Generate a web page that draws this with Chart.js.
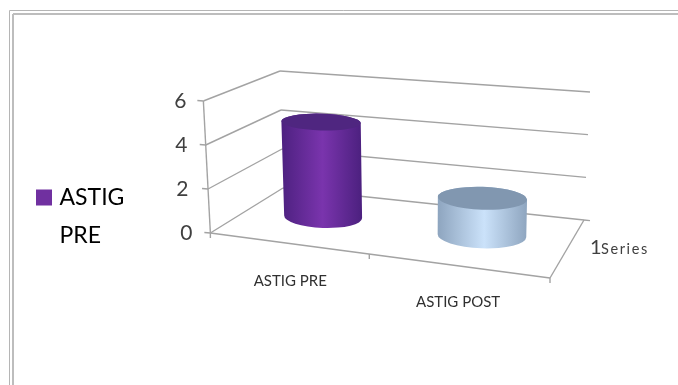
<!DOCTYPE html>
<html>
<head>
<meta charset="utf-8">
<title>ASTIG</title>
<style>
  html, body { margin: 0; padding: 0; background: #fff; overflow: hidden; }
  #wrap { position: relative; width: 678px; height: 385px; }
</style>
</head>
<body>
<div id="wrap"><canvas id="astigChart" width="678" height="385"></canvas></div>
<script src="https://cdn.jsdelivr.net/npm/chart.js@4/dist/chart.umd.js"></script>
<script>
const categories = ['ASTIG PRE', 'ASTIG POST'];
const seriesValues = [4.5, 1.7];
const legendLines = ['ASTIG', 'PRE'];
const depthIndex = '1';
const depthName = 'Series';
const yMax = 6;
const yStep = 2;

const barFill = [
  { edge: '#4d2180', mid: '#7a34ad', cap: '#4f2680' },
  { edge: '#8ea5bf', mid: '#cbe2fa', cap: '#8197b0' }
];
const gridColor = '#a3a3a3';
const textColor = '#404040';

// The scales lay out the front plane; these are the back corners of the box
const backFloorLeft = { x: 283, y: 188 };
const backFloorRight = { x: 584, y: 220 };
const backTopLeft = { x: 280, y: 71 };
const backTopRight = { x: 590, y: 92 };
const frontTopRightOffset = { x: 2, y: 32 };
const frontTopLeftOffset = { x: -7, y: 0 };
const barDepth = 0.55;
const barDepthRadius = 0.23;
const perspective = 1.137;
const yLabelLean = { 0: 0, 2: -4, 4: -5, 6: -6 };

function mix(a, b, t) {
  return { x: a.x + (b.x - a.x) * t, y: a.y + (b.y - a.y) * t };
}

// u, v are 0..1 along the category and value axes, d is 0 at the front and 1 at the back
function project(area, u, v, d) {
  const w = u / (u + (1 - u) * perspective);
  const frontBottomLeft = { x: area.left, y: area.bottom };
  const frontBottomRight = { x: area.right, y: area.bottom + 45 };
  const frontTopLeft = { x: area.left + frontTopLeftOffset.x, y: area.top + frontTopLeftOffset.y };
  const frontTopRight = { x: area.right + frontTopRightOffset.x, y: area.top + frontTopRightOffset.y };
  const front = mix(mix(frontBottomLeft, frontTopLeft, v), mix(frontBottomRight, frontTopRight, v), w);
  const back = mix(mix(backFloorLeft, backTopLeft, v), mix(backFloorRight, backTopRight, v), w);
  return mix(front, back, d);
}

function strokeLine(ctx, a, b) {
  ctx.beginPath();
  ctx.moveTo(a.x, a.y);
  ctx.lineTo(b.x, b.y);
  ctx.stroke();
}

// Ellipse of a cylinder end at height v, in screen space
function capShape(area, u, halfU, v) {
  const left = project(area, u - halfU, v, barDepth);
  const right = project(area, u + halfU, v, barDepth);
  const near = project(area, u, v, barDepth - barDepthRadius);
  const far = project(area, u, v, barDepth + barDepthRadius);
  return {
    x: (left.x + right.x) / 2,
    y: (left.y + right.y) / 2,
    rx: Math.hypot(right.x - left.x, right.y - left.y) / 2,
    ry: Math.abs(near.y - far.y) / 2,
    tilt: Math.atan2(right.y - left.y, right.x - left.x) * 0.3
  };
}

function drawCylinder(ctx, area, bar, fill) {
  const width = area.right - area.left;
  const halfU = (bar.width / 2) / width;
  const u = (bar.x - area.left) / width;
  const vTop = (area.bottom - bar.y) / (area.bottom - area.top);
  const top = capShape(area, u, halfU, vTop);
  const bottom = capShape(area, u, halfU, 0);

  const grad = ctx.createLinearGradient(top.x - top.rx, 0, top.x + top.rx, 0);
  grad.addColorStop(0, fill.edge);
  grad.addColorStop(0.52, fill.mid);
  grad.addColorStop(1, fill.edge);

  ctx.save();
  ctx.fillStyle = grad;
  ctx.beginPath();
  ctx.ellipse(top.x, top.y, top.rx, top.ry, top.tilt, Math.PI, 0);
  ctx.ellipse(bottom.x, bottom.y, bottom.rx, bottom.ry, bottom.tilt, 0, Math.PI);
  ctx.closePath();
  ctx.fill();

  ctx.fillStyle = fill.cap;
  ctx.beginPath();
  ctx.ellipse(top.x, top.y, top.rx, top.ry, top.tilt, 0, Math.PI * 2);
  ctx.fill();
  ctx.restore();
}

const wallsPlugin = {
  id: 'walls',
  beforeDraw(chart) {
    // lean the tick labels with the box
    const yItems = chart.scales.y.getLabelItems();
    const xItems = chart.scales.x.getLabelItems();
    if (yItems.leaned) return;
    yItems.leaned = true;
    yItems.forEach(item => {
      item.options.translation[0] += yLabelLean[item.label];
    });
    xItems[1].options.translation[0] -= 2;
    xItems[1].options.translation[1] += 21;
  },
  beforeDatasetsDraw(chart) {
    const { ctx, chartArea: area, scales } = chart;
    ctx.save();

    // page frame
    ctx.strokeStyle = '#b5b5b5';
    ctx.lineWidth = 1;
    strokeLine(ctx, { x: 9.5, y: 385 }, { x: 9.5, y: 10.5 });
    strokeLine(ctx, { x: 9.5, y: 10.5 }, { x: 678, y: 10.5 });
    ctx.lineWidth = 2;
    ctx.strokeStyle = '#bdbdbd';
    strokeLine(ctx, { x: 13, y: 385 }, { x: 13, y: 14 });
    strokeLine(ctx, { x: 13, y: 14 }, { x: 678, y: 14 });

    ctx.strokeStyle = gridColor;
    ctx.lineWidth = 1.4;

    // value lines run along the left wall and then the back wall
    scales.y.ticks.forEach(tick => {
      const v = tick.value / yMax;
      const front = project(area, 0, v, 0);
      const corner = project(area, 0, v, 1);
      const end = project(area, 1, v, 1);
      strokeLine(ctx, { x: front.x - 6, y: front.y - 0.5 }, front);
      strokeLine(ctx, front, corner);
      strokeLine(ctx, corner, end);
    });

    // front edge of the left wall
    strokeLine(ctx, project(area, 0, 1, 0), project(area, 0, 0, 0));

    // floor outline and its ticks
    const a = project(area, 0, 0, 0);
    const b = project(area, 1, 0, 0);
    const d = project(area, 1, 0, 1);
    strokeLine(ctx, a, b);
    strokeLine(ctx, b, d);
    strokeLine(ctx, d, { x: d.x + 6, y: d.y + 0.6 });
    [0, 0.5, 1].forEach(u => {
      const p = project(area, u, 0, 0);
      strokeLine(ctx, p, { x: p.x, y: p.y + 5 });
    });

    ctx.restore();
  },
  beforeDatasetDraw(chart, args) {
    const { ctx, chartArea: area } = chart;
    const bars = chart.getDatasetMeta(args.index).data;
    bars.forEach((bar, i) => drawCylinder(ctx, area, bar, barFill[i]));
    return false;
  },
  afterDraw(chart) {
    const { ctx } = chart;
    ctx.save();
    ctx.fillStyle = textColor;
    ctx.textBaseline = 'alphabetic';
    ctx.font = '20px Lato';
    ctx.fillText(depthIndex, 590, 254);
    ctx.font = '14.5px Lato';
    ctx.letterSpacing = '1.6px';
    ctx.fillText(depthName, 601, 254);
    ctx.restore();
  }
};

new Chart(document.getElementById('astigChart'), {
  type: 'bar',
  data: {
    labels: categories,
    datasets: [{
      label: legendLines.join(' '),
      data: seriesValues,
      backgroundColor: '#7030a0',
      barPercentage: 0.52,
      categoryPercentage: 1
    }]
  },
  plugins: [wallsPlugin],
  options: {
    responsive: false,
    animation: false,
    events: [],
    layout: { padding: { top: 101, bottom: 38, left: 32, right: 128 } },
    plugins: {
      title: { display: false },
      tooltip: { enabled: false },
      legend: {
        position: 'left',
        labels: {
          // small box with a thick stroke keeps the swatch close to the text
          boxWidth: 8,
          boxHeight: 8,
          padding: 8,
          color: textColor,
          font: { family: 'Lato', size: 23, lineHeight: '38px' },
          generateLabels: () => [{
            text: legendLines,
            fillStyle: '#7030a0',
            strokeStyle: '#7030a0',
            lineWidth: 8,
            hidden: false,
            datasetIndex: 0
          }]
        }
      }
    },
    scales: {
      x: {
        grid: { display: false, drawTicks: false },
        border: { display: false },
        afterFit(scale) { scale.height = 114; },
        ticks: {
          color: '#303030',
          font: { family: 'Lato', size: 15 },
          padding: 39,
          labelOffset: -5,
          maxRotation: 0,
          autoSkip: false
        }
      },
      y: {
        min: 0,
        max: yMax,
        grid: { display: false, drawTicks: false },
        border: { display: false },
        afterFit(scale) { scale.width = 76; },
        ticks: {
          stepSize: yStep,
          color: textColor,
          font: { family: 'Lato', size: 21 },
          padding: 18
        }
      }
    }
  }
});
</script>
</body>
</html>
